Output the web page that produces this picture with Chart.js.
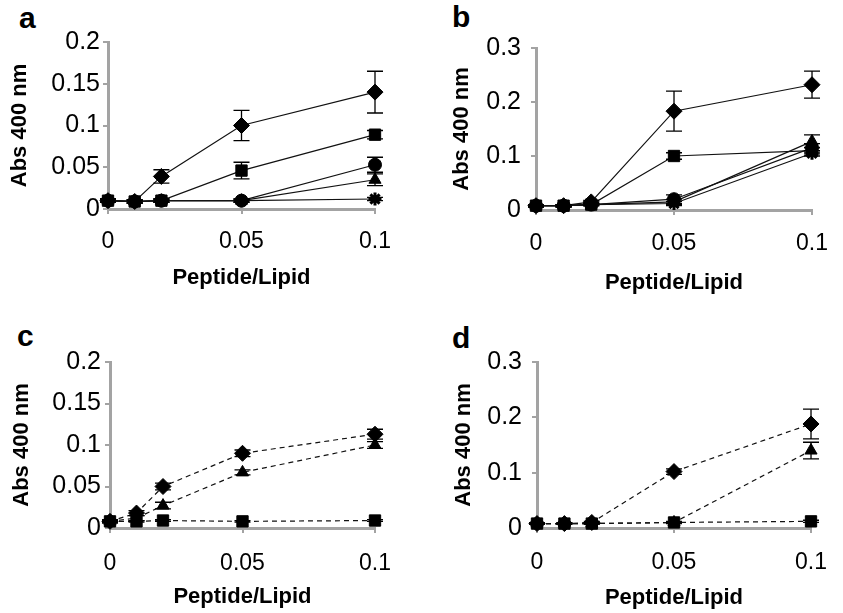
<!DOCTYPE html>
<html>
<head>
<meta charset="utf-8">
<script src="https://cdn.jsdelivr.net/npm/chart.js@4/dist/chart.umd.min.js"></script>
<style>
body { margin: 0; background: #fff; width: 843px; height: 613px; overflow: hidden; font-family: "Liberation Sans", Arial, sans-serif; }
.panel { position: absolute; }
.letter { position: absolute; font-weight: bold; font-size: 30px; line-height: 30px; color: #000; }
</style>
</head>
<body>
<div class="letter" style="left:19px;top:3px">a</div>
<div class="letter" style="left:452px;top:2px">b</div>
<div class="letter" style="left:17px;top:321px">c</div>
<div class="letter" style="left:452px;top:323px">d</div>
<div class="panel" style="left:0;top:0;width:420px;height:306px"><canvas id="ca"></canvas></div>
<div class="panel" style="left:420px;top:0;width:423px;height:306px"><canvas id="cb"></canvas></div>
<div class="panel" style="left:0;top:306px;width:420px;height:307px"><canvas id="cc"></canvas></div>
<div class="panel" style="left:420px;top:306px;width:423px;height:307px"><canvas id="cd"></canvas></div>
<script>
// shared x values and tick labels
const xValues = [0, 0.01, 0.02, 0.05, 0.1];
const xTicks = [0, 0.05, 0.1];
const yTicksSmall = [0, 0.05, 0.1, 0.15, 0.2];
const yTicksBig = [0, 0.1, 0.2, 0.3];

// panel a
const aDiamond = [0.01, 0.009, 0.039, 0.1, 0.14];
const aDiamondErr = [0.002, 0.002, 0.008, 0.018, 0.025];
const aSquare = [0.01, 0.009, 0.01, 0.046, 0.089];
const aSquareErr = [0.002, 0.002, 0.002, 0.01, 0.005];
const aCircle = [0.01, 0.009, 0.01, 0.01, 0.053];
const aCircleErr = [0.002, 0.002, 0.002, 0.002, 0.009];
const aTriangle = [0.01, 0.009, 0.01, 0.01, 0.035];
const aTriangleErr = [0.002, 0.002, 0.002, 0.002, 0.007];
const aStar = [0.01, 0.009, 0.01, 0.01, 0.012];
const aStarErr = [0.001, 0.001, 0.001, 0.001, 0.002];

// panel b
const bDiamond = [0.008, 0.008, 0.015, 0.183, 0.232];
const bDiamondErr = [0.002, 0.002, 0.003, 0.037, 0.025];
const bSquare = [0.008, 0.008, 0.01, 0.1, 0.11];
const bSquareErr = [0.002, 0.002, 0.002, 0.006, 0.006];
const bCircle = [0.008, 0.008, 0.01, 0.02, 0.115];
const bCircleErr = [0.002, 0.002, 0.002, 0.008, 0.008];
const bTriangle = [0.008, 0.008, 0.01, 0.015, 0.127];
const bTriangleErr = [0.002, 0.002, 0.002, 0.005, 0.012];
const bStar = [0.008, 0.008, 0.01, 0.012, 0.105];
const bStarErr = [0.002, 0.002, 0.002, 0.004, 0.005];

// panel c
const cDiamond = [0.008, 0.018, 0.05, 0.09, 0.113];
const cDiamondErr = [0.002, 0.003, 0.004, 0.004, 0.006];
const cTriangle = [0.008, 0.012, 0.027, 0.067, 0.1];
const cTriangleErr = [0.001, 0.003, 0.004, 0.003, 0.004];
const cSquare = [0.008, 0.008, 0.009, 0.008, 0.009];
const cSquareErr = [0.001, 0.001, 0.001, 0.001, 0.001];

// panel d
const dDiamond = [0.008, 0.008, 0.01, 0.102, 0.188];
const dDiamondErr = [0.001, 0.001, 0.002, 0.005, 0.027];
const dTriangle = [0.008, 0.008, 0.008, 0.01, 0.14];
const dTriangleErr = [0.001, 0.001, 0.001, 0.002, 0.015];
const dSquare = [0.008, 0.008, 0.008, 0.01, 0.012];
const dSquareErr = [0.001, 0.001, 0.001, 0.001, 0.002];

const markers = {
  diamond: { pointStyle: 'rectRot', radius: 8 },
  square: { pointStyle: 'rect', radius: 8 },
  circle: { pointStyle: 'circle', radius: 6.5 },
  triangle: { pointStyle: 'triangle', radius: 7 },
  star: { pointStyle: 'star', radius: 6.5 }
};

const axisGray = '#a3a3a3';

const errorBars = {
  id: 'errorBars',
  afterDatasetsDraw(chart) {
    const ctx = chart.ctx;
    const yScale = chart.scales.y;
    chart.data.datasets.forEach((ds, i) => {
      if (!ds.errors) return;
      const meta = chart.getDatasetMeta(i);
      ctx.save();
      ctx.strokeStyle = '#000';
      ctx.lineWidth = 1.3;
      ctx.setLineDash([]);
      meta.data.forEach((pt, j) => {
        const e = ds.errors[j];
        const v = ds.data[j].y;
        const top = yScale.getPixelForValue(v + e);
        const bot = yScale.getPixelForValue(v - e);
        ctx.beginPath();
        ctx.moveTo(pt.x, top); ctx.lineTo(pt.x, bot);
        ctx.moveTo(pt.x - 8, top); ctx.lineTo(pt.x + 8, top);
        ctx.moveTo(pt.x - 8, bot); ctx.lineTo(pt.x + 8, bot);
        ctx.stroke();
      });
      ctx.restore();
    });
  }
};

function series(values, errors, marker, dashed) {
  const m = markers[marker];
  return {
    data: xValues.map((x, i) => ({ x: x, y: values[i] })),
    errors: errors,
    borderColor: '#111',
    borderWidth: 1.2,
    borderDash: dashed ? [5, 4] : [],
    backgroundColor: '#000',
    pointStyle: m.pointStyle,
    pointRadius: m.radius,
    pointBorderColor: '#000',
    pointBackgroundColor: '#000',
    pointBorderWidth: marker === 'star' ? 3 : 1,
    clip: false,
    tension: 0
  };
}

function makePanel(id, L, yTicks, yMax, datasets) {
  new Chart(document.getElementById(id), {
    type: 'line',
    data: { datasets: datasets },
    plugins: [errorBars],
    options: {
      responsive: true,
      maintainAspectRatio: false,
      animation: false,
      layout: { padding: { left: 0, top: L.top, right: L.right, bottom: 0 } },
      plugins: { legend: { display: false }, tooltip: { enabled: false } },
      scales: {
        x: {
          type: 'linear', min: 0, max: 0.1,
          afterBuildTicks: s => { s.ticks = xTicks.map(v => ({ value: v })); },
          afterFit: s => { s.height = L.xh; },
          ticks: { color: '#000', padding: L.xTickPad, font: { family: 'Liberation Sans', size: 23 }, callback: v => String(v) },
          grid: { drawOnChartArea: false, drawTicks: true, tickLength: 5, color: axisGray, lineWidth: 2 },
          border: { color: axisGray, width: 3 },
          title: { display: true, text: 'Peptide/Lipid', color: '#000', font: { family: 'Liberation Sans', size: 22, weight: 'bold' }, padding: { top: 0, bottom: L.xTitlePad } }
        },
        y: {
          type: 'linear', min: 0, max: yMax,
          afterBuildTicks: s => { s.ticks = yTicks.map(v => ({ value: v })); },
          afterFit: s => { s.width = L.left; },
          ticks: { color: '#000', padding: L.yTickPad, font: { family: 'Liberation Sans', size: 25 }, callback: v => String(v) },
          grid: { drawOnChartArea: false, drawTicks: true, tickLength: 5, color: axisGray, lineWidth: 2 },
          border: { color: axisGray, width: 3 },
          title: { display: true, text: 'Abs 400 nm', color: '#000', font: { family: 'Liberation Sans', size: 22, weight: 'bold' }, padding: { top: L.yTitlePad, bottom: 0 } }
        }
      }
    }
  });
}

makePanel('ca', { left: 108, top: 42, right: 45, xh: 97, yTitlePad: 6.8, xTitlePad: 14.8, yTickPad: 3, xTickPad: 14 }, yTicksSmall, 0.2, [
  series(aStar, aStarErr, 'star', false),
  series(aTriangle, aTriangleErr, 'triangle', false),
  series(aCircle, aCircleErr, 'circle', false),
  series(aSquare, aSquareErr, 'square', false),
  series(aDiamond, aDiamondErr, 'diamond', false)
]);

makePanel('cb', { left: 116, top: 48, right: 25, xh: 96, yTitlePad: 28.8, xTitlePad: 9.8, yTickPad: 10, xTickPad: 15 }, yTicksBig, 0.3, [
  series(bStar, bStarErr, 'star', false),
  series(bCircle, bCircleErr, 'circle', false),
  series(bTriangle, bTriangleErr, 'triangle', false),
  series(bSquare, bSquareErr, 'square', false),
  series(bDiamond, bDiamondErr, 'diamond', false)
]);

makePanel('cc', { left: 110, top: 56, right: 45, xh: 85, yTitlePad: 8.8, xTitlePad: 2.8, yTickPad: 4, xTickPad: 17 }, yTicksSmall, 0.2, [
  series(cSquare, cSquareErr, 'square', true),
  series(cTriangle, cTriangleErr, 'triangle', true),
  series(cDiamond, cDiamondErr, 'diamond', true)
]);

makePanel('cd', { left: 117, top: 56, right: 19, xh: 85, yTitlePad: 30.8, xTitlePad: 1.8, yTickPad: 10, xTickPad: 16 }, yTicksBig, 0.3, [
  series(dSquare, dSquareErr, 'square', true),
  series(dTriangle, dTriangleErr, 'triangle', true),
  series(dDiamond, dDiamondErr, 'diamond', true)
]);
</script>
</body>
</html>
